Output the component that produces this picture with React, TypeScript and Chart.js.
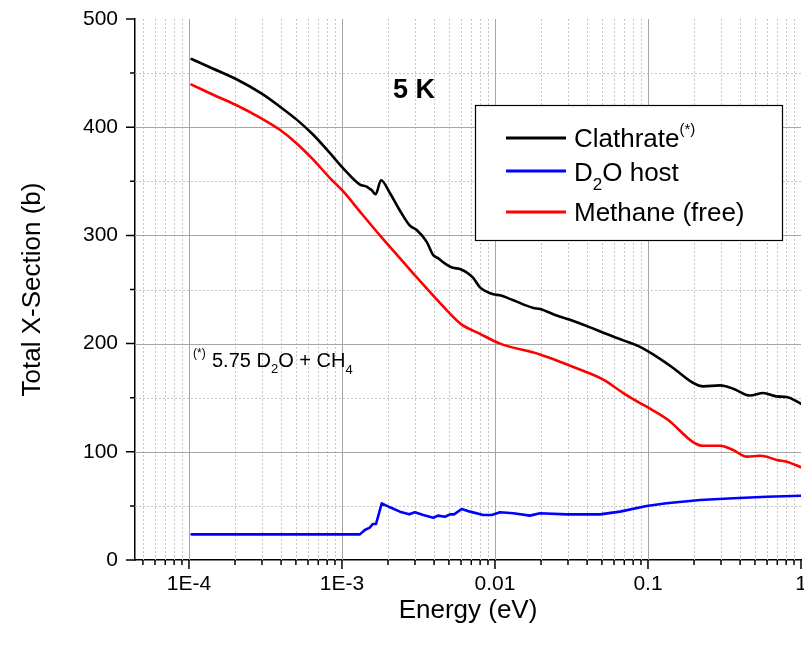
import { useEffect, useRef } from "react";
import { Chart, registerables } from "chart.js";

Chart.register(...registerables);

// Total neutron cross section at 5 K versus incident energy (eV)
const clathrateEnergy = [
  1.04e-4, 1.44e-4, 2.0e-4, 2.99e-4, 3.93e-4, 5.06e-4, 6.49e-4, 8.35e-4, 1.02e-3, 1.31e-3,
  1.45e-3, 1.52e-3, 1.56e-3, 1.66e-3, 1.8e-3, 2.06e-3, 2.39e-3, 2.78e-3, 3.08e-3, 3.58e-3,
  3.94e-3, 4.24e-3, 4.83e-3, 5.31e-3, 5.9e-3, 7.18e-3, 7.98e-3, 8.83e-3, 9.75e-3, 1.08e-2,
  1.32e-2, 1.78e-2, 1.97e-2, 2.53e-2, 3.09e-2, 4.18e-2, 5.1e-2, 6.9e-2, 8.87e-2, 0.108,
  0.146, 0.198, 0.23, 0.296, 0.361, 0.464, 0.567, 0.693, 0.807, 1.0,
];
const clathrateXS = [
  463, 454, 445, 431, 419, 407, 393, 376, 362, 347,
  345, 343, 342, 338, 351, 339, 323, 309, 305, 294,
  282, 279, 273, 270, 269, 261, 252, 248, 245.5, 244.6,
  240, 233, 232, 226, 222, 215, 210, 203, 197, 190,
  177.5, 163.6, 160.5, 161.4, 158.3, 152, 154.3, 151.2, 150.6, 144.4,
];

const d2oEnergy = [
  1.04e-4, 1.31e-3, 1.41e-3, 1.52e-3, 1.59e-3, 1.67e-3, 1.82e-3, 2.06e-3, 2.39e-3, 2.75e-3,
  3.0e-3, 3.4e-3, 3.95e-3, 4.24e-3, 4.71e-3, 5.08e-3, 5.4e-3, 6.06e-3, 6.87e-3, 8.39e-3,
  9.51e-3, 1.08e-2, 1.32e-2, 1.69e-2, 1.97e-2, 2.94e-2, 4.86e-2, 6.56e-2, 9.8e-2, 0.132,
  0.219, 0.361, 0.597, 1.0,
];
const d2oXS = [
  23.7, 23.7, 27.7, 29.9, 33.3, 33.3, 52.4, 48.7, 44.7, 42.2,
  44.1, 41.6, 39.1, 41, 40, 42.2, 42.2, 47.1, 44.7, 41.6,
  41.6, 44.1, 43.2, 41, 43.2, 42.2, 42.2, 44.7, 49.9, 52.4,
  55.5, 57, 58.5, 59.4,
];

const methaneEnergy = [
  1.04e-4, 1.44e-4, 2.0e-4, 2.99e-4, 3.93e-4, 5.06e-4, 6.49e-4, 8.35e-4, 1.02e-3, 1.31e-3,
  1.77e-3, 2.39e-3, 3.0e-3, 4.83e-3, 6.0e-3, 7.98e-3, 1.08e-2, 1.97e-2, 3.59e-2, 5.1e-2,
  6.9e-2, 8.87e-2, 0.1, 0.135, 0.197, 0.229, 0.296, 0.36, 0.442, 0.54,
  0.597, 0.694, 0.807, 1.0,
];
const methaneXS = [
  439.4, 430, 421, 408, 397.6, 385, 370, 353, 340.6, 322,
  300, 279, 263, 231, 218, 209, 200, 190, 176, 166.7,
  154.3, 145, 141, 129.6, 109, 105.6, 105.6, 101.7, 95.5, 96.4,
  95.5, 92.4, 90.9, 85.7,
];

const xTickValues = [1e-4, 1e-3, 1e-2, 1e-1, 1];
const xTickLabels = ["1E-4", "1E-3", "0.01", "0.1", "1"];
const yTickValues = [0, 100, 200, 300, 400, 500];
const yMinorValues = [50, 150, 250, 350, 450];

const FONT = '"Liberation Sans", Arial, Helvetica, sans-serif';
const COLORS = ["#000000", "#0000ff", "#ff0000"];

// Minor x positions: 2..9 times each decade inside the visible range
function xMinorValues(min: number, max: number): number[] {
  const out: number[] = [];
  for (let d = -6; d <= 0; d++) {
    for (let m = 2; m <= 9; m++) {
      const v = m * Math.pow(10, d);
      if (v > min && v < max) out.push(v);
    }
  }
  return out;
}

const gridPlugin = {
  id: "dottedGrid",
  beforeDatasetsDraw(chart: any) {
    const { ctx, chartArea: a, scales } = chart;
    const xs = scales.x;
    const ys = scales.y;
    ctx.save();
    ctx.lineWidth = 1;
    // minor dotted lines
    ctx.strokeStyle = "#c4c4c4";
    ctx.setLineDash([2, 2]);
    ctx.beginPath();
    for (const v of xMinorValues(xs.min, xs.max)) {
      const px = Math.round(xs.getPixelForValue(v)) + 0.5;
      ctx.moveTo(px, a.top);
      ctx.lineTo(px, a.bottom);
    }
    for (const v of yMinorValues) {
      const py = Math.round(ys.getPixelForValue(v)) + 0.5;
      ctx.moveTo(a.left, py);
      ctx.lineTo(a.right, py);
    }
    ctx.stroke();
    // major solid lines
    ctx.setLineDash([]);
    ctx.strokeStyle = "#a6a6a6";
    ctx.beginPath();
    for (const v of xTickValues) {
      if (v >= xs.max) continue;
      const px = Math.round(xs.getPixelForValue(v)) + 0.5;
      ctx.moveTo(px, a.top);
      ctx.lineTo(px, a.bottom);
    }
    for (const v of yTickValues) {
      if (v <= ys.min || v >= ys.max) continue;
      const py = Math.round(ys.getPixelForValue(v)) + 0.5;
      ctx.moveTo(a.left, py);
      ctx.lineTo(a.right, py);
    }
    ctx.stroke();
    ctx.restore();
  },
  afterDraw(chart: any) {
    const { ctx, chartArea: a, scales } = chart;
    const xs = scales.x;
    const ys = scales.y;
    ctx.save();
    ctx.strokeStyle = "#000";
    ctx.lineWidth = 1.5;
    ctx.beginPath();
    // tick marks pointing outward
    for (const v of xTickValues) {
      const px = xs.getPixelForValue(v);
      ctx.moveTo(px, a.bottom);
      ctx.lineTo(px, a.bottom + 9);
    }
    for (const v of xMinorValues(xs.min, xs.max)) {
      const px = xs.getPixelForValue(v);
      ctx.moveTo(px, a.bottom);
      ctx.lineTo(px, a.bottom + 5);
    }
    for (const v of yTickValues) {
      const py = ys.getPixelForValue(v);
      ctx.moveTo(a.left, py);
      ctx.lineTo(a.left - 9, py);
    }
    for (const v of yMinorValues) {
      const py = ys.getPixelForValue(v);
      ctx.moveTo(a.left, py);
      ctx.lineTo(a.left - 5, py);
    }
    ctx.stroke();

    // run of text pieces: [text, size, baseline shift, bold]
    const drawRun = (x0: number, y0: number, parts: [string, number, number, boolean?][]) => {
      let x = x0;
      ctx.fillStyle = "#000";
      ctx.textBaseline = "alphabetic";
      ctx.textAlign = "left";
      for (const [t, size, dy, bold] of parts) {
        ctx.font = `${bold ? "bold " : ""}${size}px ${FONT}`;
        ctx.fillText(t, x, y0 + dy);
        x += ctx.measureText(t).width;
      }
    };

    // legend
    const lx = 475, ly = 105, lw = 307, lh = 135;
    ctx.fillStyle = "#fff";
    ctx.fillRect(lx, ly, lw, lh);
    ctx.strokeStyle = "#000";
    ctx.lineWidth = 1.2;
    ctx.strokeRect(lx + 0.5, ly + 0.5, lw, lh);
    const rows: { y: number; base: number; parts: [string, number, number, boolean?][] }[] = [
      { y: 138, base: 147, parts: [["Clathrate", 26, 0], ["(*)", 15, -13]] },
      { y: 171, base: 181, parts: [["D", 26, 0], ["2", 17, 9], ["O host", 26, 0]] },
      { y: 212, base: 221, parts: [["Methane (free)", 26, 0]] },
    ];
    rows.forEach((r, i) => {
      ctx.strokeStyle = COLORS[i];
      ctx.lineWidth = 3;
      ctx.beginPath();
      ctx.moveTo(506, r.y);
      ctx.lineTo(566, r.y);
      ctx.stroke();
      drawRun(574, r.base, r.parts);
    });

    // temperature label and composition note
    drawRun(393, 98, [["5 K", 27, 0, true]]);
    drawRun(193, 357, [["(*)", 12, 0]]);
    drawRun(212, 367, [["5.75 D", 20, 0], ["2", 13, 6], ["O + CH", 20, 0], ["4", 13, 7]]);
    ctx.restore();
  },
};

export default function App() {
  const canvasRef = useRef<HTMLCanvasElement | null>(null);

  useEffect(() => {
    document.body.style.margin = "0";
    const canvas = canvasRef.current;
    if (!canvas) return;
    const toPoints = (xs: number[], ys: number[]) => xs.map((x, i) => ({ x, y: ys[i] }));

    const chart = new Chart(canvas, {
      type: "line",
      data: {
        datasets: [
          {
            label: "Clathrate",
            data: toPoints(clathrateEnergy, clathrateXS),
            borderColor: COLORS[0],
            borderWidth: 2.6,
            cubicInterpolationMode: "monotone",
          },
          {
            label: "D2O host",
            data: toPoints(d2oEnergy, d2oXS),
            borderColor: COLORS[1],
            borderWidth: 2.6,
            tension: 0,
          },
          {
            label: "Methane (free)",
            data: toPoints(methaneEnergy, methaneXS),
            borderColor: COLORS[2],
            borderWidth: 2.6,
            cubicInterpolationMode: "monotone",
          },
        ],
      },
      options: {
        responsive: false,
        animation: false,
        layout: { padding: { top: 19, right: 3, left: 0, bottom: 0 }, autoPadding: false },
        elements: { point: { radius: 0 }, line: { borderJoinStyle: "round", borderCapStyle: "round" } },
        plugins: { legend: { display: false }, tooltip: { enabled: false } },
        scales: {
          x: {
            type: "logarithmic",
            min: 4.44e-5,
            max: 1,
            afterBuildTicks: (s: any) => {
              s.ticks = xTickValues.map((v) => ({ value: v }));
            },
            afterFit: (s: any) => {
              s.height = 90;
              s.paddingLeft = 0;
              s.paddingRight = 0;
            },
            ticks: {
              autoSkip: false,
              maxRotation: 0,
              padding: 12,
              color: "#000",
              font: { family: FONT, size: 21 },
              callback: (v: any) => xTickLabels[xTickValues.indexOf(Number(v))] ?? "",
            },
            grid: { display: false, drawTicks: false },
            border: { display: true, color: "#000", width: 1.5 },
            title: {
              display: true,
              text: "Energy (eV)",
              color: "#000",
              font: { family: FONT, size: 26 },
              padding: { top: 0, bottom: 24 },
            },
          },
          y: {
            type: "linear",
            min: 0,
            max: 500,
            afterBuildTicks: (s: any) => {
              s.ticks = yTickValues.map((v) => ({ value: v }));
            },
            afterFit: (s: any) => {
              s.width = 135;
              s.paddingTop = 0;
              s.paddingBottom = 0;
            },
            ticks: {
              padding: 17,
              color: "#000",
              font: { family: FONT, size: 21 },
            },
            grid: { display: false, drawTicks: false },
            border: { display: true, color: "#000", width: 1.5 },
            title: {
              display: true,
              text: "Total X-Section (b)",
              color: "#000",
              font: { family: FONT, size: 26 },
              padding: { top: 17, bottom: 0 },
            },
          },
        },
      },
      plugins: [gridPlugin],
    } as any);

    return () => chart.destroy();
  }, []);

  return <canvas ref={canvasRef} width={804} height={650} style={{ display: "block" }} />;
}
